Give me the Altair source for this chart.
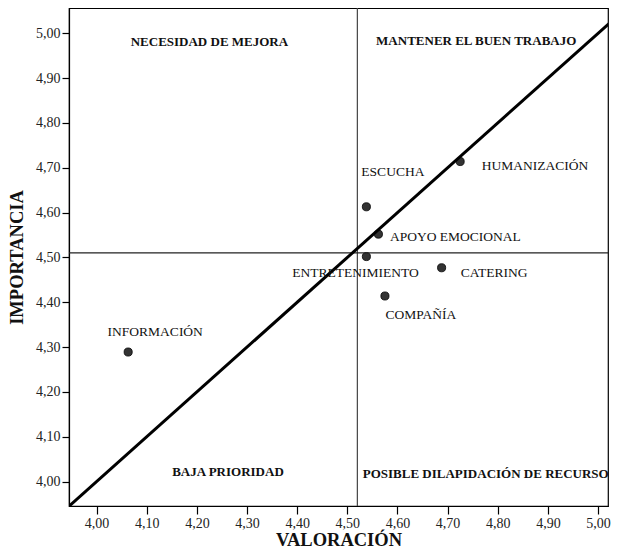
import altair as alt
import pandas as pd

# Point data (VALORACIÓN x, IMPORTANCIA y)
names = ["INFORMACIÓN", "ESCUCHA", "HUMANIZACIÓN", "APOYO EMOCIONAL",
         "ENTRETENIMIENTO", "CATERING", "COMPAÑÍA"]
valoracion = [4.063, 4.538, 4.725, 4.562, 4.538, 4.688, 4.575]
importancia = [4.289, 4.613, 4.714, 4.552, 4.502, 4.477, 4.414]

# Label anchors (data units)
label_x = [4.022, 4.528, 4.768, 4.585, 4.390, 4.726, 4.576]
label_y = [4.334, 4.690, 4.704, 4.545, 4.466, 4.465, 4.372]

# Quadrant titles
quad_names = ["NECESIDAD DE MEJORA", "MANTENER EL BUEN TRABAJO",
              "BAJA PRIORIDAD", "POSIBLE DILAPIDACIÓN DE RECURSO"]
quad_x = [4.225, 4.757, 4.262, 4.776]
quad_y = [4.981, 4.983, 4.021, 4.017]

# Reference values
mean_x = 4.52
mean_y = 4.51
diag_vals = [3.945, 5.10]

x_ticks = [4.0, 4.1, 4.2, 4.3, 4.4, 4.5, 4.6, 4.7, 4.8, 4.9, 5.0]
y_ticks = [4.0, 4.1, 4.2, 4.3, 4.4, 4.5, 4.6, 4.7, 4.8, 4.9, 5.0]

FONT = "Liberation Serif"
XDOM = [3.945, 5.0198]
YDOM = [3.9455, 5.0565]

pts = pd.DataFrame({"name": names, "x": valoracion, "y": importancia,
                    "lx": label_x, "ly": label_y})
quads = pd.DataFrame({"name": quad_names, "x": quad_x, "y": quad_y})
diag = pd.DataFrame({"x": diag_vals, "y": diag_vals})

lab_expr = "replace(format(datum.value, '.2f'), '.', ',')"

xenc = alt.X("x:Q", scale=alt.Scale(domain=XDOM, nice=False, zero=False),
             axis=alt.Axis(values=x_ticks, labelExpr=lab_expr, title="VALORACIÓN",
                           grid=False, tickSize=8, labelPadding=2, titlePadding=0))
yenc = alt.Y("y:Q", scale=alt.Scale(domain=YDOM, nice=False, zero=False),
             axis=alt.Axis(values=y_ticks, labelExpr=lab_expr, title="IMPORTANCIA",
                           grid=False, tickSize=7, labelPadding=2, titlePadding=9))

base = alt.Chart(pts)

diag_line = alt.Chart(diag).mark_line(color="black", strokeWidth=3, clip=True).encode(
    x=alt.X("x:Q", scale=alt.Scale(domain=XDOM, nice=False, zero=False)),
    y=alt.Y("y:Q", scale=alt.Scale(domain=YDOM, nice=False, zero=False)))

vline = alt.Chart(pd.DataFrame({"v": [mean_x]})).mark_rule(
    color="#444444", strokeWidth=1.2).encode(x="v:Q")
hline = alt.Chart(pd.DataFrame({"v": [mean_y]})).mark_rule(
    color="#222222", strokeWidth=1.2).encode(y="v:Q")

points = base.mark_circle(size=66, color="#333333", opacity=1,
                          stroke="black", strokeWidth=0.8).encode(x=xenc, y=yenc)

labels = base.mark_text(align="left", baseline="middle", font=FONT,
                        fontSize=13.5, color="#111111").encode(
    x="lx:Q", y="ly:Q", text="name:N")

quad_text = alt.Chart(quads).mark_text(align="center", baseline="middle", font=FONT,
                                       fontSize=13, fontWeight="bold",
                                       color="#111111").encode(
    x="x:Q", y="y:Q", text="name:N")

chart = alt.layer(points, vline, hline, diag_line, labels, quad_text).properties(
    width=539, height=498,
    autosize="none",
    padding={"left": 61, "top": 0, "right": 4, "bottom": 43},
).configure_axis(
    labelFont=FONT, labelFontSize=14, labelColor="#222222",
    titleFont=FONT, titleFontSize=18.5, titleFontWeight="bold", titleColor="#111111",
    domainColor="black", domainWidth=1.2, tickColor="black", tickWidth=1.2,
).configure_view(stroke="black", strokeWidth=1.2)

chart.save("out.html", embed_options={"renderer": "svg", "actions": False})
